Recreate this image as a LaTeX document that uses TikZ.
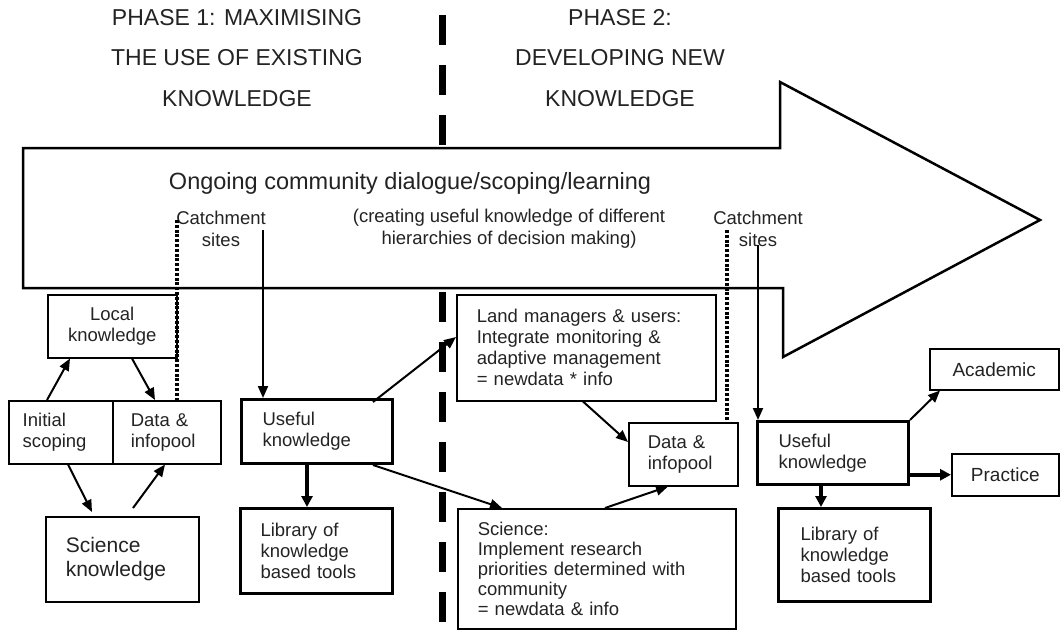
\documentclass[tikz,border=0pt]{standalone}
\usepackage{fontspec}
\setmainfont{Liberation Sans}
\usetikzlibrary{arrows.meta}
\definecolor{txt}{RGB}{35,35,35}
\begin{document}
\begin{tikzpicture}[x=1pt,y=-1pt,
  every node/.style={text=txt},
  hdr/.style={font=\fontsize{23}{40.5}\selectfont, align=center},
  lbl/.style={font=\fontsize{18.5}{22}\selectfont, align=center},
  thinbox/.style={draw=black, line width=1.5pt, inner ysep=2pt, anchor=north west, align=left, font=\fontsize{18.5}{21}\selectfont},
  thickbox/.style={thinbox, line width=3pt},
  arr/.style={line width=2pt, -{Triangle[length=12pt,width=10pt]}},
  tarr/.style={line width=3.5pt, -{Triangle[length=11pt,width=11pt]}},
  dotl/.style={line width=3.5pt, dash pattern=on 3pt off 1.8pt},
  divider/.style={line width=7pt, dash pattern=on 30pt off 20pt},
  bigarrow/.style={draw=black, fill=white, line width=2.5pt, line join=miter},
]
\useasboundingbox (0,0) rectangle (1060,634);

% phase divider
\draw[divider] (442,15) -- (442,145);
\draw[divider] (442,292) -- (442,622);

% headers
\node[hdr] (ph1) at (237,58) {PHASE 1: MAXIMISING\\THE USE OF EXISTING\\KNOWLEDGE};
\node[hdr] (ph2) at (620,58) {PHASE 2:\\DEVELOPING NEW\\KNOWLEDGE};

% big arrow
\draw[bigarrow] (23,148) -- (780,148) -- (780,82) -- (1040,220) -- (783,357) -- (783,288) -- (23,288) -- cycle;

\node[font=\fontsize{23.5}{26}\selectfont] (ongoing) at (410,183) {Ongoing community dialogue/scoping/learning};
\node[lbl] (cs1) at (221,229) {Catchment\\sites};
\node[lbl] (creating) at (509,229) {(creating useful knowledge of different\\hierarchies of decision making)};
\node[lbl] (cs2) at (758,229) {Catchment\\sites};

% boxes
\node[thinbox, inner xsep=14pt, text width=76pt, minimum width=104pt, minimum height=63pt] (is) at (8,400) {Initial\\scoping};
\node[thinbox, inner xsep=18pt, text width=72pt, minimum width=108pt, minimum height=63pt] (d1) at (112,400) {Data \&\\infopool};
\node[thinbox, align=center, inner xsep=8pt, text width=113pt, minimum width=129pt, minimum height=63pt] (lk) at (47,294) {Local\\knowledge};
\node[thinbox, inner xsep=20pt, text width=113pt, minimum width=153pt, minimum height=85pt, font=\fontsize{21}{24}\selectfont] (sk) at (45,516) {Science\\knowledge};
\node[thickbox, inner xsep=21pt, text width=109pt, minimum width=151pt, minimum height=64pt] (uk1) at (240,398) {Useful\\knowledge};
\node[thickbox, inner xsep=20pt, text width=112pt, minimum width=152pt, minimum height=85pt] (lib1) at (239,507) {Library of\\knowledge\\based tools};
\node[thinbox, inner xsep=20pt, text width=219pt, minimum width=259pt, minimum height=106pt] (lm) at (456,294) {Land managers \& users:\\Integrate monitoring \&\\adaptive management\\= newdata * info};
\node[thinbox, inner xsep=19pt, text width=71pt, minimum width=109pt, minimum height=63pt] (d2) at (628,422) {Data \&\\infopool};
\node[thinbox, inner xsep=20pt, text width=238pt, minimum width=278pt, minimum height=120pt, font=\fontsize{18.5}{20}\selectfont] (sc2) at (457,508) {Science:\\Implement research\\priorities determined with\\community\\= newdata \& info};
\node[thickbox, inner xsep=21pt, text width=109pt, minimum width=151pt, minimum height=63pt] (uk2) at (756,420) {Useful\\knowledge};
\node[thickbox, inner xsep=22pt, text width=108pt, minimum width=152pt, minimum height=93pt] (lib2) at (777,507) {Library of\\knowledge\\based tools};
\node[thinbox, align=center, inner xsep=5pt, text width=119pt, minimum width=129pt, minimum height=41pt, font=\fontsize{19}{22}\selectfont] (ac) at (929,348) {Academic};
\node[thinbox, align=center, inner xsep=5pt, text width=97pt, minimum width=107pt, minimum height=42pt, font=\fontsize{19}{22}\selectfont] (pr) at (951,453) {Practice};

% catchment connectors
\coordinate (cl) at (177,220);
\coordinate (cr) at (727,230);
\coordinate (al) at (263,230);
\coordinate (ar) at (758,245);
\draw[dotl] (cl) -- (cl |- d1.north);
\draw[dotl] (cr) -- (cr |- d2.north);
\draw[arr] (al) -- (al |- uk1.north);
\draw[arr] (ar) -- (ar |- uk2.north);

% phase 1 connectors
\draw[arr] ([xshift=39pt]is.north west) -- ([xshift=23pt]lk.south west);
\draw[arr] ([xshift=85pt]lk.south west) -- ([xshift=43pt]d1.north west);
\draw[arr] ([xshift=60pt]is.south west) -- ([xshift=47pt,yshift=4pt]sk.north west);
\draw[arr] ([xshift=88pt,yshift=8pt]sk.north west) -- ([xshift=53pt]d1.south west);
\draw[tarr] ([xshift=67pt]uk1.south west) -- ([xshift=68pt]lib1.north west);
\draw[arr] ([xshift=-21pt,yshift=-4pt]uk1.north east) -- ([yshift=-43pt]lm.north west);
\draw[arr] ([xshift=-21pt]uk1.south east) -- ([xshift=45pt]sc2.north west);

% phase 2 connectors
\draw[arr] ([xshift=127pt]lm.south west) -- ([yshift=-20pt]d2.north west);
\draw[arr] ([xshift=148pt]sc2.north west) -- ([xshift=40pt]d2.south west);
\draw[tarr] ([xshift=65pt]uk2.south west) -- ([xshift=44pt]lib2.north west);
\draw[arr] (uk2.north east) -- ([xshift=11pt]ac.south west);
\draw[tarr] (uk2.east |- pr.west) -- (pr.west);
\end{tikzpicture}
\end{document}
